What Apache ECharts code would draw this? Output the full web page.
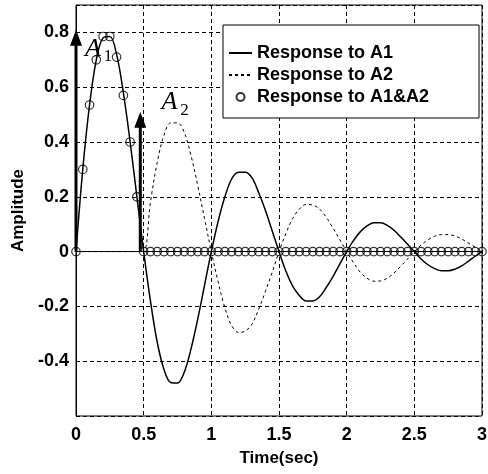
<!DOCTYPE html>
<html>
<head>
<meta charset="utf-8">
<script src="https://cdn.jsdelivr.net/npm/echarts@6/dist/echarts.min.js"></script>
<style>
html,body{margin:0;padding:0;background:#fff;}
#main{width:488px;height:474px;}
</style>
</head>
<body>
<div id="main"></div>
<script>
// sample times (sec)
var time = [0,0.05,0.1,0.15,0.2,0.25,0.3,0.35,0.4,0.45,
            0.5,0.55,0.6,0.65,0.7,0.75,0.8,0.85,0.9,0.95,
            1,1.05,1.1,1.15,1.2,1.25,1.3,1.35,1.4,1.45,
            1.5,1.55,1.6,1.65,1.7,1.75,1.8,1.85,1.9,1.95,
            2,2.05,2.1,2.15,2.2,2.25,2.3,2.35,2.4,2.45,
            2.5,2.55,2.6,2.65,2.7,2.75,2.8,2.85,2.9,2.95,3];

// response to A1 (solid)
var respA1 = [0,0.30,0.535,0.70,0.78,0.785,0.72,0.58,0.40,0.20,
              0,-0.18,-0.33,-0.43,-0.478,-0.48,-0.44,-0.355,-0.245,-0.122,
              0,0.11,0.20,0.265,0.29,0.29,0.27,0.215,0.15,0.075,
              0,-0.07,-0.125,-0.16,-0.18,-0.18,-0.165,-0.13,-0.09,-0.045,
              0,0.04,0.072,0.094,0.105,0.105,0.096,0.078,0.053,0.027,
              0,-0.027,-0.048,-0.062,-0.07,-0.07,-0.064,-0.052,-0.035,-0.017,0];

// response to A2 (dashed)
var respA2 = [0,0,0,0,0,0,0,0,0,0,
              0,0.18,0.325,0.425,0.47,0.47,0.435,0.35,0.24,0.12,
              0,-0.11,-0.205,-0.27,-0.295,-0.29,-0.265,-0.21,-0.145,-0.075,
              0,0.065,0.12,0.155,0.172,0.17,0.155,0.125,0.085,0.043,
              0,-0.04,-0.075,-0.097,-0.108,-0.107,-0.097,-0.078,-0.053,-0.027,
              0,0.024,0.043,0.056,0.062,0.062,0.057,0.046,0.031,0.016,0];

// response to A1&A2 (circles)
var respBoth = [0,0.30,0.535,0.70,0.785,0.785,0.71,0.57,0.40,0.20,
                0,0,0,0,0,0,0,0,0,0,
                0,0,0,0,0,0,0,0,0,0,
                0,0,0,0,0,0,0,0,0,0,
                0,0,0,0,0,0,0,0,0,0,
                0,0,0,0,0,0,0,0,0,0,0];

// impulses A1, A2
var impulseT = [0, 0.475];
var impulseAmp = [0.81, 0.51];
// impulse labels
var noteT = [0.126, 0.69];
var noteV = [0.74, 0.545];
var noteSub = ['1', '2'];

var xTicks = [0, 3, 0.5];      // min, max, interval
var yTicks = [-0.6, 0.9, 0.2];

function pairs(ys){
    var out = [];
    for (var i = 0; i < time.length; i++) out.push([time[i], ys[i]]);
    return out;
}

var font = '"Liberation Sans", Arial, sans-serif';

var option = {
    animation:false,
    grid:{
        left:76, right:6, top:5, bottom:58,
        show:true, borderColor:'#000', borderWidth:1,
        outerBoundsMode:'none'
    },
    legend:{
        orient:'vertical',
        left:223, top:25,
        padding:[19,50,12,5],
        itemGap:4,
        itemWidth:23, itemHeight:8,
        backgroundColor:'#fff',
        borderColor:'#000', borderWidth:1,
        textStyle:{color:'#000', fontSize:18, fontWeight:'bold', fontFamily:font, lineHeight:18},
        data:[
            {name:'Response to A1', itemStyle:{opacity:0}},
            {name:'Response to A2', itemStyle:{opacity:0}},
            {name:'Response to A1&A2'}
        ]
    },
    xAxis:{
        type:'value',
        min:xTicks[0], max:xTicks[1], interval:xTicks[2],
        name:'Time(sec)', nameLocation:'middle', nameGap:34,
        nameTextStyle:{color:'#000', fontSize:17, fontWeight:'bold', fontFamily:font},
        axisLine:{lineStyle:{color:'#000', width:1}},
        axisTick:{show:false},
        axisLabel:{color:'#000', fontSize:18, fontWeight:'bold', fontFamily:font, margin:10},
        splitLine:{show:true, lineStyle:{color:'#000', type:[4,3], width:1}}
    },
    yAxis:{
        type:'value',
        min:yTicks[0], max:yTicks[1], interval:yTicks[2],
        name:'Amplitude', nameLocation:'middle', nameGap:46,
        nameTextStyle:{color:'#000', fontSize:17, fontWeight:'bold', fontFamily:font},
        axisLine:{show:true, lineStyle:{color:'#000', width:1}},
        axisTick:{show:false},
        axisLabel:{
            color:'#000', fontSize:18, fontWeight:'bold', fontFamily:font, margin:7,
            formatter:function(v){
                var r = Math.round(v*10)/10;
                if (r < -0.5 || r > 0.85) return '';
                return String(r);
            }
        },
        splitLine:{show:true, lineStyle:{color:'#000', type:[4,3], width:1}}
    },
    series:[{
        name:'Response to A1',
        type:'line',
        data:pairs(respA1),
        smooth:0.35,
        symbol:'none',
        lineStyle:{color:'#000', width:1.5},
        itemStyle:{color:'#000'}
    },{
        name:'Response to A2',
        type:'line',
        data:pairs(respA2),
        smooth:0.35,
        symbol:'none',
        lineStyle:{color:'#000', width:1, type:[3,3]},
        itemStyle:{color:'#000'}
    },{
        name:'Response to A1&A2',
        type:'scatter',
        data:pairs(respBoth),
        symbol:'circle',
        symbolSize:8.5,
        itemStyle:{color:'rgba(0,0,0,0)', borderColor:'#000', borderWidth:1.2}
    },{
        // impulse arrows
        type:'custom',
        silent:true,
        clip:false,
        data:impulseT.map(function(t,i){return [t, impulseAmp[i]];}),
        renderItem:function(params, api){
            var base = api.coord([api.value(0), 0]);
            var tip = api.coord([api.value(0), api.value(1)]);
            return {
                type:'group',
                children:[{
                    type:'line',
                    shape:{x1:base[0], y1:base[1], x2:tip[0], y2:tip[1]+14},
                    style:{stroke:'#000', lineWidth:3}
                },{
                    type:'polygon',
                    shape:{points:[[tip[0], tip[1]], [tip[0]-6, tip[1]+16], [tip[0]+6, tip[1]+16]]},
                    style:{fill:'#000'}
                }]
            };
        }
    },{
        // A1 / A2 labels
        type:'custom',
        silent:true,
        clip:false,
        data:noteT.map(function(t,i){return [t, noteV[i], i];}),
        renderItem:function(params, api){
            var p = api.coord([api.value(0), api.value(1)]);
            var sub = noteSub[api.value(2)];
            return {
                type:'group',
                children:[{
                    type:'text',
                    style:{text:'A', x:p[0], y:p[1], fill:'#000', align:'center', verticalAlign:'middle',
                           font:'italic 26px "Liberation Serif", "Times New Roman", serif'}
                },{
                    type:'text',
                    style:{text:sub, x:p[0]+15, y:p[1]+8, fill:'#000', align:'center', verticalAlign:'middle',
                           font:'17px "Liberation Serif", "Times New Roman", serif'}
                }]
            };
        }
    }]
};

var chart = echarts.init(document.getElementById('main'));
chart.setOption(option);
</script>
</body>
</html>
